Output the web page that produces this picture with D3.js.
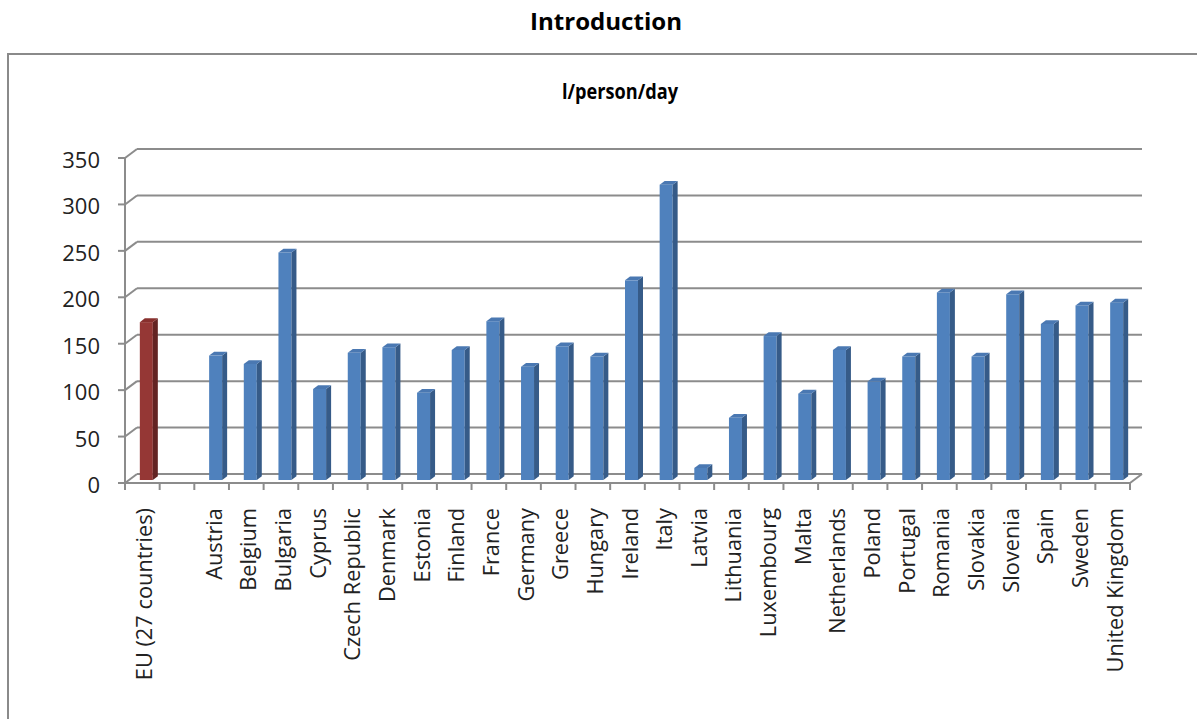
<!DOCTYPE html>
<html>
<head>
<meta charset="utf-8">
<script src="https://cdn.jsdelivr.net/npm/d3@7"></script>
<style>
  html, body { margin: 0; padding: 0; background: #fff; }
  svg { display: block; font-family: "Open Sans", "DejaVu Sans", sans-serif; }
</style>
</head>
<body>
<svg id="chart" width="1197" height="719"></svg>
<script>
// ---- data ----
const categories = ["EU (27 countries)", "", "Austria", "Belgium", "Bulgaria", "Cyprus", "Czech Republic",
  "Denmark", "Estonia", "Finland", "France", "Germany", "Greece", "Hungary", "Ireland", "Italy",
  "Latvia", "Lithuania", "Luxembourg", "Malta", "Netherlands", "Poland", "Portugal", "Romania",
  "Slovakia", "Slovenia", "Spain", "Sweden", "United Kingdom"];
const values = [170, null, 134, 125, 245, 98, 137, 143, 94, 140, 171, 122, 144, 133, 215, 318,
  13, 67, 155, 93, 140, 106, 133, 202, 133, 200, 168, 188, 191];
const highlight = [true, false, false, false, false, false, false, false, false, false, false,
  false, false, false, false, false, false, false, false, false, false, false, false, false,
  false, false, false, false, false];
const yTicks = [0, 50, 100, 150, 200, 250, 300, 350];
const mainTitle = "Introduction";
const chartTitle = "l/person/day";

// ---- layout ----
const svg = d3.select("#chart");
const DX = 12, DY = -9;           // 3D depth offset (front -> back wall)
const frontLeft = 125, frontRight = 1130;
const yFront0 = 483, yFront350 = 158;

const x = d3.scaleBand().domain(d3.range(categories.length)).range([frontLeft, frontRight]).padding(0);
const yF = d3.scaleLinear().domain([0, 350]).range([yFront0, yFront350]);   // front plane
const yB = v => yF(v) + DY;                                                  // back wall

// outer frame
svg.append("rect").attr("x", 8).attr("y", 54).attr("width", 1250).attr("height", 800)
  .attr("fill", "none").attr("stroke", "#8a8a8a").attr("stroke-width", 2);

// titles
svg.append("text").attr("x", 606).attr("y", 30).attr("text-anchor", "middle")
  .attr("font-size", 24).attr("font-weight", "bold").attr("fill", "#000")
  .attr("textLength", 152).attr("lengthAdjust", "spacingAndGlyphs").text(mainTitle);
svg.append("text").attr("x", 620).attr("y", 99).attr("text-anchor", "middle")
  .attr("font-size", 21).attr("font-weight", "bold").attr("fill", "#000")
  .attr("textLength", 116).attr("lengthAdjust", "spacingAndGlyphs").text(chartTitle);

const gridColor = "#8c8c8c";
const g = svg.append("g");

// gridlines on back wall + left diagonal connectors
yTicks.forEach(v => {
  g.append("line").attr("x1", frontLeft + DX).attr("x2", frontRight + DX)
    .attr("y1", yB(v)).attr("y2", yB(v)).attr("stroke", gridColor).attr("stroke-width", 2);
  g.append("line").attr("x1", frontLeft).attr("y1", yF(v)).attr("x2", frontLeft + DX).attr("y2", yB(v))
    .attr("stroke", gridColor).attr("stroke-width", 2);
  g.append("line").attr("x1", frontLeft - 7).attr("x2", frontLeft).attr("y1", yF(v)).attr("y2", yF(v))
    .attr("stroke", gridColor).attr("stroke-width", 2);
  g.append("text").attr("x", 100).attr("y", yF(v) + 1).attr("text-anchor", "end")
    .attr("dominant-baseline", "central").attr("font-size", 22).attr("fill", "#222").text(v);
});

// floor front edge & right diagonal
g.append("line").attr("x1", frontLeft).attr("x2", frontRight).attr("y1", yF(0)).attr("y2", yF(0))
  .attr("stroke", gridColor).attr("stroke-width", 2);
g.append("line").attr("x1", frontRight).attr("y1", yF(0)).attr("x2", frontRight + DX).attr("y2", yB(0))
  .attr("stroke", gridColor).attr("stroke-width", 2);
// y axis
g.append("line").attr("x1", frontLeft).attr("x2", frontLeft).attr("y1", yF(350)).attr("y2", yF(0))
  .attr("stroke", gridColor).attr("stroke-width", 2);

// category ticks
d3.range(categories.length + 1).forEach(i => {
  const xx = frontLeft + i * x.bandwidth();
  g.append("line").attr("x1", xx).attr("x2", xx).attr("y1", yF(0)).attr("y2", yF(0) + 7)
    .attr("stroke", gridColor).attr("stroke-width", 2);
});

// bars
const barW = 13, barDepthX = 5, barDepthY = -3.8;
const faceOffX = 4, faceOffY = -3;
const colors = {
  blue: { front: "#4f81bd", side: "#365b88", top: "#4a78b2" },
  red: { front: "#953735", side: "#632423", top: "#88302e" }
};
values.forEach((v, i) => {
  if (v == null) return;
  const c = highlight[i] ? colors.red : colors.blue;
  const cx = x(i) + x.bandwidth() / 2 + faceOffX;
  const xl = cx - barW / 2, xr = cx + barW / 2;
  const yb = yF(0) + faceOffY, yt = yF(v) + faceOffY;
  const bg = g.append("g");
  bg.append("rect").attr("x", xl).attr("y", yt).attr("width", barW).attr("height", yb - yt).attr("fill", c.front);
  bg.append("polygon").attr("points",
    [[xr, yb], [xr + barDepthX, yb + barDepthY], [xr + barDepthX, yt + barDepthY], [xr, yt]].map(p => p.join(",")).join(" "))
    .attr("fill", c.side);
  bg.append("polygon").attr("points",
    [[xl, yt], [xr, yt], [xr + barDepthX, yt + barDepthY], [xl + barDepthX, yt + barDepthY]].map(p => p.join(",")).join(" "))
    .attr("fill", c.top);
});

// category labels (rotated)
categories.forEach((name, i) => {
  if (!name) return;
  const cx = x(i) + x.bandwidth() / 2 + 1.5;
  g.append("text").attr("transform", `translate(${cx},508) rotate(-90)`)
    .attr("text-anchor", "end").attr("dominant-baseline", "central")
    .attr("font-size", 21.8).attr("fill", "#222").text(name);
});
</script>
</body>
</html>
